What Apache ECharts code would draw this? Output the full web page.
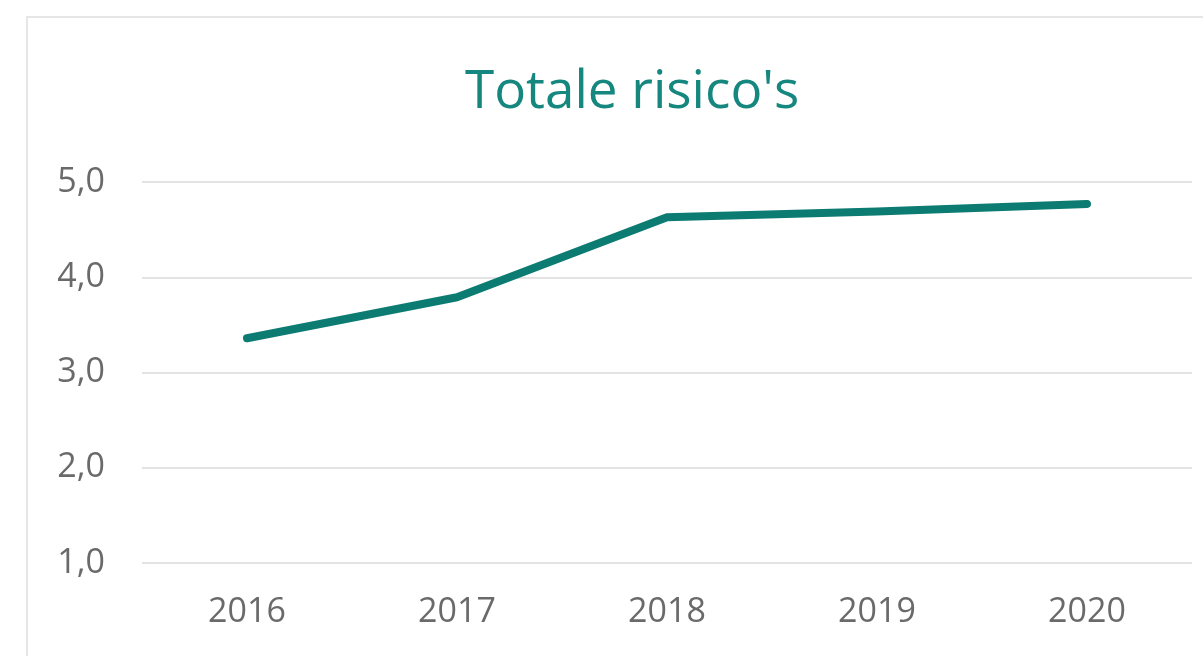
<!DOCTYPE html>
<html><head><meta charset="utf-8">
<script src="https://cdn.jsdelivr.net/npm/echarts@6/dist/echarts.min.js"></script>
<style>
html,body{margin:0;padding:0;background:#fff;}
#frame{position:absolute;left:26px;top:16px;width:1200px;height:660px;border:2px solid #e6e6e6;box-sizing:border-box;}
#c{position:absolute;left:0;top:0;width:1203px;height:656px;}
</style></head>
<body>
<div id="frame"></div>
<div id="c"></div>
<script>
const categories = ['2016','2017','2018','2019','2020'];
const values = [3.36, 3.79, 4.63, 4.69, 4.77];
const yTicks = [1, 2, 3, 4, 5];
const titleText = "Totale risico's";

const chart = echarts.init(document.getElementById('c'));
chart.setOption({
  animation: false,
  title: {
    text: titleText, left: 460, top: 61,
    textStyle: { color: '#15877e', fontSize: 53, fontWeight: 'normal', fontFamily: 'Open Sans' }
  },
  grid: { left: 142, right: 11, top: 182, bottom: 93 },
  xAxis: {
    type: 'category', data: categories, boundaryGap: true,
    axisLine: { show: false }, axisTick: { show: false },
    axisLabel: { color: '#6a6a6a', fontSize: 34, fontFamily: 'Open Sans', margin: 32 }
  },
  yAxis: {
    type: 'value', min: yTicks[0], max: yTicks[yTicks.length-1], interval: 1,
    axisLine: { show: false }, axisTick: { show: false },
    splitLine: { lineStyle: { color: '#e3e3e3', width: 2 } },
    axisLabel: { color: '#6a6a6a', fontSize: 34, fontFamily: 'Open Sans', margin: 37,
      formatter: v => v.toFixed(1).replace('.', ',') }
  },
  series: [{
    type: 'line', data: values, symbol: 'none',
    lineStyle: { color: '#0c7b72', width: 8, cap: 'round', join: 'round' }
  }]
});
</script>
</body></html>
